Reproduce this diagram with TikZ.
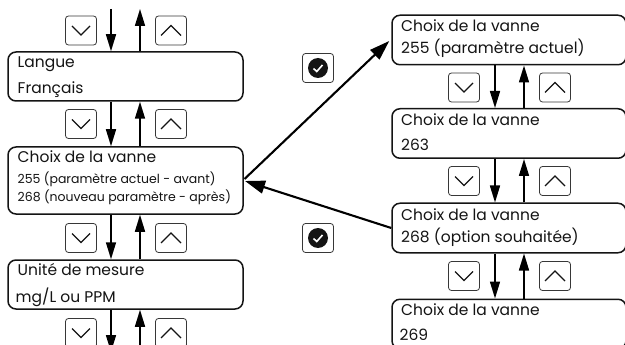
\documentclass[tikz,border=0pt]{standalone}
\usepackage{fontspec}
\setmainfont{Poppins}
\usetikzlibrary{arrows.meta,calc}
\definecolor{inkcolor}{RGB}{20,20,20}
\definecolor{buttoncolor}{RGB}{55,55,55}
\tikzset{
	menubox/.style={draw=inkcolor,line width=1.5pt,rounded corners=8pt,fill=white,inner sep=0pt},
	leftbox/.style={menubox,minimum width=235pt,minimum height=49pt},
	rightbox/.style={menubox,minimum width=234pt,minimum height=49.5pt},
	bigtext/.style={anchor=base west,inner sep=0pt,font=\fontsize{15.5}{17}\selectfont,text=inkcolor},
	smalltext/.style={anchor=base west,inner sep=0pt,font=\fontsize{12.5}{14}\selectfont,text=inkcolor},
	button/.style={draw=buttoncolor,line width=0.8pt,rounded corners=3pt,minimum width=31pt,minimum height=29pt,inner sep=0pt},
	chevron/.style={draw=inkcolor,line width=1.2pt},
	flow/.style={draw=black,line width=1.6pt,-{Triangle[length=17pt,width=10pt]},shorten >=0pt},
	jump/.style={draw=black,line width=2.1pt,-{Triangle[length=20pt,width=13pt]}}
}
\begin{document}
\begin{tikzpicture}[x=1pt,y=-1pt]
\clip (0,0) rectangle (625,345);

% Left column
\node[leftbox] (langue) at (125.5,76.5) {};
\node[leftbox,minimum height=67pt] (choix) at (125.5,180.5) {};
\node[leftbox] (unite) at (125.5,284.5) {};

\node[bigtext] (langue-1) at (17.5,68) {Langue};
\node[bigtext] (langue-2) at (17.5,94) {Français};
\node[bigtext] (choix-1) at (17.5,163) {Choix de la vanne};
\node[smalltext] (choix-2) at (17.5,183) {255 (paramètre actuel - avant)};
\node[smalltext] (choix-3) at (17.5,201) {268 (nouveau paramètre - après)};
\node[bigtext] (unite-1) at (17.5,276) {Unité de mesure};
\node[bigtext] (unite-2) at (15.5,302) {mg/L ou PPM};

% Right column
\node[rightbox] (actuel) at (509,40) {};
\node[rightbox] (suivant) at (509,133.5) {};
\node[rightbox] (option) at (509,228) {};
\node[rightbox] (dernier) at (509,324) {};

\node[bigtext] (actuel-1) at (401,32) {Choix de la vanne};
\node[bigtext] (actuel-2) at (401,54) {255 (paramètre actuel)};
\node[bigtext] (suivant-1) at (401,125) {Choix de la vanne};
\node[bigtext] (suivant-2) at (401,150) {263};
\node[bigtext] (option-1) at (401,220) {Choix de la vanne};
\node[bigtext] (option-2) at (401,243) {268 (option souhaitée)};
\node[bigtext] (dernier-1) at (401,315) {Choix de la vanne};
\node[bigtext] (dernier-2) at (399.5,340) {269};

% Buttons
\foreach \bname/\bx/\by in {a/81/30.5,b/81/124,c/81/238,d/81/333,e/464/87.5,f/464/181,g/464/276}
{
	\node[button] (down-\bname) at (\bx,\by) {};
	\draw[chevron] ($(down-\bname)+(-9,-4.5)$) -- ($(down-\bname)+(0,4.5)$) -- ($(down-\bname)+(9,-4.5)$);
}
\foreach \bname/\bx/\by in {a/171/30.5,b/171/124,c/171/238,d/171/333,e/555/87.5,f/555/181,g/555/276}
{
	\node[button] (up-\bname) at (\bx,\by) {};
	\draw[chevron] ($(up-\bname)+(-10,5)$) -- ($(up-\bname)+(0,-5)$) -- ($(up-\bname)+(10,5)$);
}

% Confirm buttons
\foreach \bname/\by in {haut/68,bas/238}
{
	\node[button] (ok-\bname) at (318,\by) {};
	\fill[inkcolor] (ok-\bname) circle (10pt);
	\draw[white,line width=1.6pt] ($(ok-\bname)+(-4.5,0.5)$) -- ($(ok-\bname)+(-1.2,3.5)$) -- ($(ok-\bname)+(4.5,-3)$);
}

% Vertical arrows
\coordinate (ldown) at (111,0);
\coordinate (lup) at (140,0);
\coordinate (rdown) at (495,0);
\coordinate (rup) at (524,0);
\coordinate (topd) at (111,9);
\coordinate (topu) at (140,9);
\coordinate (botd) at (111,352);
\coordinate (botu) at (140,345);

\draw[flow] (topd) -- (ldown |- langue.north);
\draw[flow] (lup |- langue.north) -- (topu);
\draw[flow] (ldown |- langue.south) -- (ldown |- choix.north);
\draw[flow] (lup |- choix.north) -- (lup |- langue.south);
\draw[flow] (ldown |- choix.south) -- (ldown |- unite.north);
\draw[flow] (lup |- unite.north) -- (lup |- choix.south);
\draw[flow] (ldown |- unite.south) -- (botd);
\draw[flow] (botu) -- (lup |- unite.south);

\draw[flow] (rdown |- actuel.south) -- (rdown |- suivant.north);
\draw[flow] (rup |- suivant.north) -- (rup |- actuel.south);
\draw[flow] (rdown |- suivant.south) -- (rdown |- option.north);
\draw[flow] (rup |- option.north) -- (rup |- suivant.south);
\draw[flow] (rdown |- option.south) -- (rdown |- dernier.north);
\draw[flow] (rup |- dernier.north) -- (rup |- option.south);

% Diagonal arrows
\coordinate (cible) at (245,181);
\draw[jump] (244.5,179) -- ($(actuel.west)+(-2,1)$);
\draw[jump] (option.west) -- (cible);

\end{tikzpicture}
\end{document}
